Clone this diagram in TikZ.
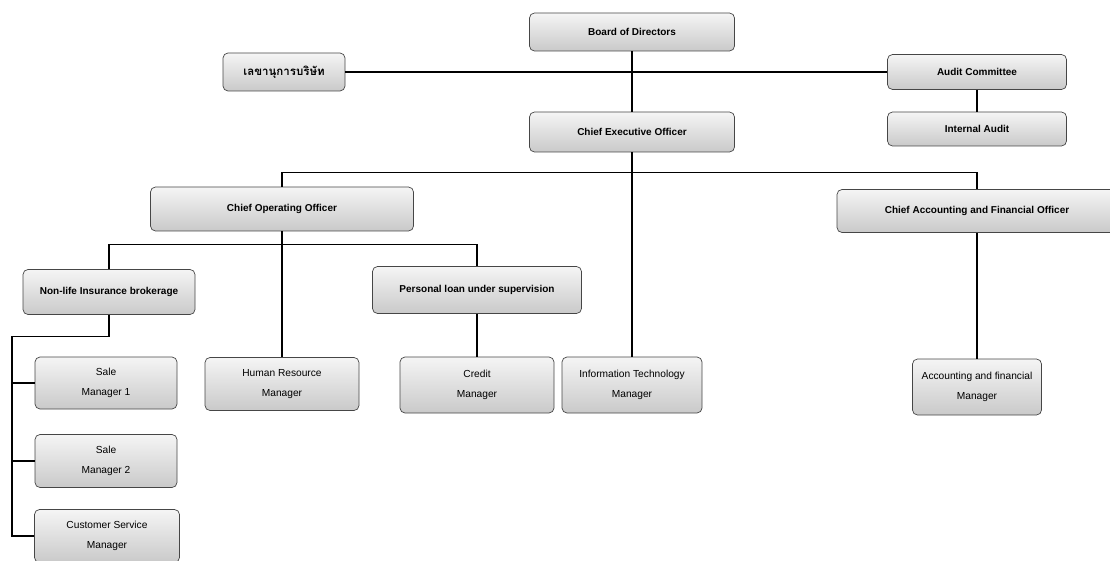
\documentclass[tikz,border=0pt]{standalone}
\usepackage{fontspec}
\setmainfont{Liberation Sans}
\newfontfamily\thaifont[Script=Thai]{Loma}
\usetikzlibrary{positioning}

\begin{document}
\begin{tikzpicture}[x=1pt,y=-1pt,-,line width=1.1pt,node distance=100pt,
    main node/.style={rounded corners=5pt,draw=gray!55!black,line width=0.7pt,top color=gray!8,bottom color=gray!42,inner sep=1pt,align=center,font=\fontsize{10}{12}\selectfont\bfseries},
    sub node/.style={main node,font=\fontsize{10.2}{20}\selectfont}]
            \useasboundingbox (0,0) rectangle (1110,561);

            \node[main node,minimum width=205pt,minimum height=38pt] (1) at (632,32) {Board of Directors};
            \node[main node,minimum width=205pt,minimum height=40pt] (2) [below of = 1] {Chief Executive Officer};
            \node[main node,minimum width=122pt,minimum height=38pt] (3) [left of = 1, xshift=-248, yshift=-40] {\thaifont\fontsize{11.5}{13}\selectfont\bfseries เลขานุการบริษัท};
            \node[main node,minimum width=179pt,minimum height=35pt] (4) [right of = 1, xshift=245, yshift=-40] {Audit Committee};
            \node[main node,minimum width=179pt,minimum height=34pt] (5) [below of = 4, yshift=43] {Internal Audit};

            \node[main node,minimum width=263pt,minimum height=44pt] (6) [below of = 2, xshift=-350, yshift=23] {Chief Operating Officer};
            \node[main node,minimum width=280pt,minimum height=43pt] (7) [below of = 2, xshift=345, yshift=21] {Chief Accounting and Financial Officer};

            \node[main node,minimum width=172pt,minimum height=45pt] (8) [below of = 6, xshift=-173, yshift=17] {Non-life Insurance brokerage};
            \node[main node,minimum width=209pt,minimum height=47pt] (9) [below of = 6, xshift=195, yshift=19] {Personal loan under supervision};

            \node[sub node,minimum width=154pt,minimum height=53pt] (10) [below of = 6, yshift=-75] {Human Resource\\Manager};
            \node[sub node,minimum width=154pt,minimum height=56pt] (11) [below of = 9, yshift=5] {Credit\\Manager};
            \node[sub node,minimum width=140pt,minimum height=56pt] (12) [below of = 2, yshift=-153] {Information Technology\\Manager};
            \node[sub node,minimum width=129pt,minimum height=56pt] (13) [below of = 7, yshift=-76] {Accounting and financial\\Manager};

            \node[sub node,minimum width=142pt,minimum height=52pt] (14) [below of = 8, xshift=-3, yshift=9] {Sale\\Manager 1};
            \node[sub node,minimum width=142pt,minimum height=53pt] (15) [below of = 14, yshift=22] {Sale\\Manager 2};
            \node[sub node,minimum width=145pt,minimum height=53pt] (16) [below of = 15, xshift=1, yshift=25] {Customer Service\\Manager};

            \coordinate (b1) at ([yshift=-20pt]2.south);
            \coordinate (b2) at ([yshift=-13pt]6.south);
            \coordinate (b3) at ([xshift=-97pt,yshift=-22pt]8.south);

            \path
                (1) edge (2)
                (3) edge (4)
                (4) edge (5)
                (2) edge (12)
                (6) edge (10)
                (9) edge (11)
                (7) edge (13)
            ;
            \draw (6.north) |- (b1) -| (7.north);
            \draw (8.north) |- (b2) -| (9.north);
            \draw (8.south) |- (b3) |- (16.west);
            \draw (b3 |- 14.west) -- (14.west);
            \draw (b3 |- 15.west) -- (15.west);
        \end{tikzpicture}
\end{document}
